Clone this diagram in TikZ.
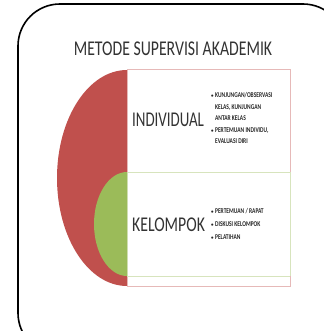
\documentclass[tikz,border=0pt]{standalone}
\usepackage{fontspec}
\setmainfont{Carlito}
\definecolor{cred}{HTML}{C0504D}
\definecolor{cgreen}{HTML}{9BBB59}
\definecolor{credl}{HTML}{E6B9B8}
\definecolor{cgreenl}{HTML}{D7E4BD}
\tikzset{
  bul/.style={font=\bfseries\fontsize{7.3}{9}\selectfont, text=black!85, anchor=base west, inner sep=0pt, xscale=0.75},
  dot/.style={font=\bfseries\fontsize{5}{6}\selectfont, text=black!85, anchor=base west, inner sep=0pt},
  big/.style={font=\fontsize{21}{22}\selectfont, text=black!80, inner sep=0pt}
}
\begin{document}
\begin{tikzpicture}[x=1pt,y=-1pt]
\useasboundingbox (0,0) rectangle (323,331);
\fill[white] (0,0) rectangle (323,331);
\draw[line width=1.6pt, rounded corners=42pt] (18,4) rectangle (345,355);
% red half ellipse
\fill[cred] (127,70) arc[start angle=270, end angle=90, x radius=70, y radius=108] -- cycle;
% rectangles
\draw[credl, line width=1pt, fill=white] (127,70) rectangle (290,172);
\draw[cgreenl, line width=1pt, fill=white] (127,172) rectangle (290,276);
\draw[credl, line width=1pt, fill=white] (127,276) rectangle (290,286);
\draw[cgreenl, line width=1pt] (127,276) -- (290,276);
% green half ellipse
\fill[cgreen] (127,172) arc[start angle=270, end angle=90, x radius=33, y radius=52] -- cycle;
\node[big, xscale=0.75] (title) at (173,49) {METODE SUPERVISI AKADEMIK};
\node[big, anchor=west, xscale=0.71] (ind) at (132,120) {INDIVIDUAL};
\node[big, anchor=west, xscale=0.75] (kel) at (132,225) {KELOMPOK};
% individual bullets
\node[dot] (d1) at (211,97.5) {\textbullet};
\node[bul] (l1) at (215,97.5) {KUNJUNGAN/OBSERVASI};
\node[bul] (l2) at (215,109.5) {KELAS, KUNJUNGAN};
\node[bul] (l3) at (215,120.5) {ANTAR KELAS};
\node[dot] (d2) at (211,132.5) {\textbullet};
\node[bul] (l4) at (215,132.5) {PERTEMUAN INDIVIDU,};
\node[bul] (l5) at (215,143.5) {EVALUASI DIRI};
% kelompok bullets
\node[dot] (d3) at (211,213.5) {\textbullet};
\node[bul] (k1) at (215,213.5) {PERTEMUAN / RAPAT};
\node[dot] (d4) at (211,226.5) {\textbullet};
\node[bul] (k2) at (215,226.5) {DISKUSI KELOMPOK};
\node[dot] (d5) at (211,239.5) {\textbullet};
\node[bul] (k3) at (215,239.5) {PELATIHAN};
\end{tikzpicture}
\end{document}
